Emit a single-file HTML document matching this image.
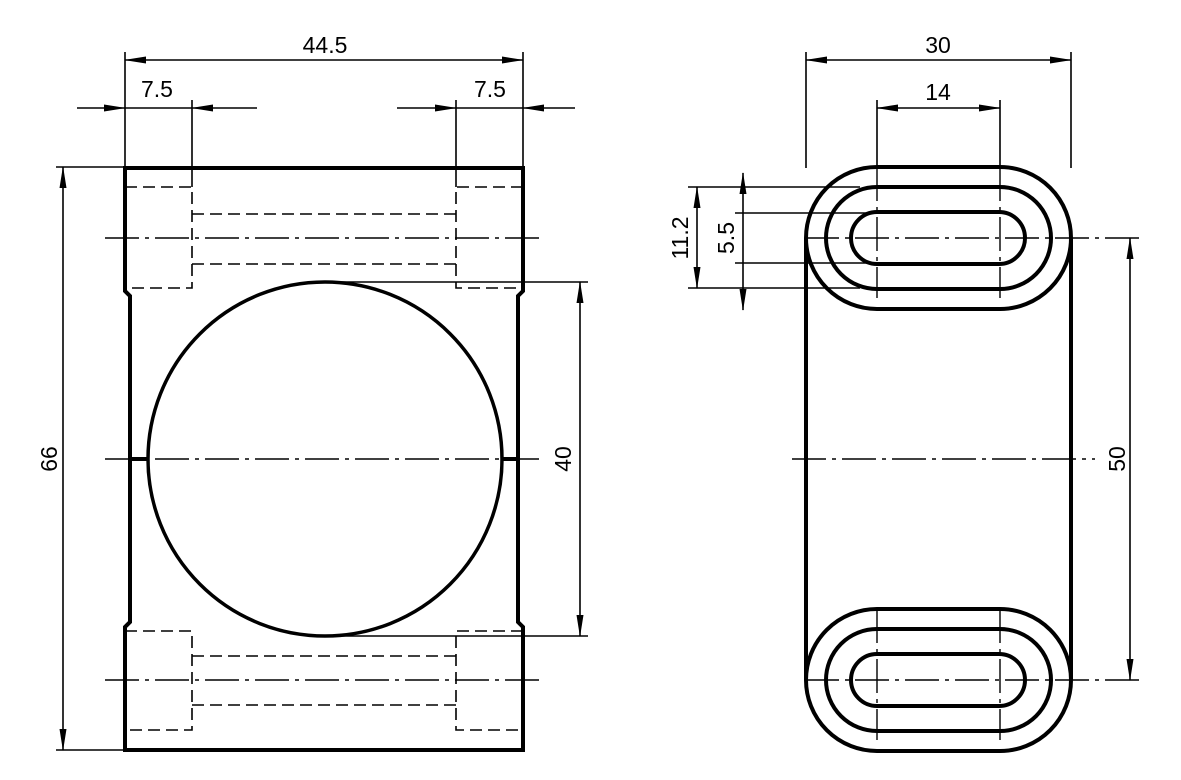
<!DOCTYPE html>
<html><head><style>body{margin:0;background:#fff}svg{display:block}text{font-family:"Liberation Sans",sans-serif;font-size:23px;fill:#000}</style></head><body>
<svg width="1181" height="780" viewBox="0 0 1181 780" xmlns="http://www.w3.org/2000/svg">
<defs>
<marker id="a" markerWidth="22" markerHeight="8" refX="21" refY="4" orient="auto-start-reverse" markerUnits="userSpaceOnUse"><path d="M0,0.5 L22,4 L0,7.5z" fill="#000"/></marker>
</defs>
<g fill="none" stroke="#000">
<path d="M125,750 L125,627 L130,622 L130,296 L125,291 L125,168 L523,168 L523,291 L518,296 L518,622 L523,627 L523,750 Z" stroke-width="4"/>
<circle cx="325" cy="459" r="177" stroke-width="3.5"/>
<path d="M130,459 H148 M502,459 H518" stroke-width="4"/>
<g stroke-width="1.6" stroke-dasharray="12,6">
<path d="M125,187 H192 V288 H125 M523,187 H456 V288 H523 M192,214 H456 M192,264 H456"/>
<path d="M125,631 H192 V730 H125 M523,631 H456 V730 H523 M192,656 H456 M192,705 H456"/>
</g>
<g stroke-width="1.4" stroke-dasharray="34,6,4,6">
<path d="M105,238 H540 M105,680 H540 M105,459 H545"/>
<path d="M805,238 H1140 M805,680 H1140 M792,459 H1095"/>
<path d="M877,167 V298 M1000,167 V298 M877,609 V740 M1000,609 V740"/>
</g>
<g stroke-width="1.6">
<path d="M125,52 V168 M523,52 V168 M192,100 V187 M456,100 V187"/>
<path d="M125,60 H523" marker-start="url(#a)" marker-end="url(#a)"/>
<path d="M77,108 H125" marker-end="url(#a)"/><path d="M257,108 H192" marker-end="url(#a)"/><path d="M125,108 H192"/>
<path d="M397,108 H456" marker-end="url(#a)"/><path d="M575,108 H523" marker-end="url(#a)"/><path d="M456,108 H523"/>
<path d="M56,167 H125 M56,750 H125"/>
<path d="M63,167 V750" marker-start="url(#a)" marker-end="url(#a)"/>
<path d="M330,282 H588 M330,636 H588"/>
<path d="M580,282 V636" marker-start="url(#a)" marker-end="url(#a)"/>
<path d="M806,52 V168 M1071,52 V168 M877,100 V167 M1000,100 V167"/>
<path d="M806,60 H1071" marker-start="url(#a)" marker-end="url(#a)"/>
<path d="M877,108 H1000" marker-start="url(#a)" marker-end="url(#a)"/>
<path d="M688,187 H860 M688,288 H860 M735,213 H877 M735,263 H877"/>
<path d="M697,187 V288" marker-start="url(#a)" marker-end="url(#a)"/>
<path d="M743,173 V213" marker-start="url(#a)"/><path d="M743,310 V263" marker-start="url(#a)"/><path d="M743,213 V263"/>
<path d="M1130,238 V680" marker-start="url(#a)" marker-end="url(#a)"/>
</g>
<g stroke-width="4">
<path d="M806,238 V680 M1071,238 V680"/>
<rect x="806" y="167" width="265" height="142" rx="71"/>
<rect x="826" y="187" width="225" height="102" rx="51"/>
<rect x="851" y="212" width="174" height="52" rx="26"/>
<rect x="806" y="609" width="265" height="142" rx="71"/>
<rect x="826" y="629" width="225" height="102" rx="51"/>
<rect x="851" y="654" width="174" height="52" rx="26"/>
</g>
</g>
<text x="325" y="53" text-anchor="middle">44.5</text>
<text x="157" y="97" text-anchor="middle">7.5</text>
<text x="490" y="97" text-anchor="middle">7.5</text>
<text x="938" y="53" text-anchor="middle">30</text>
<text x="938" y="100" text-anchor="middle">14</text>
<text transform="translate(57,459) rotate(-90)" text-anchor="middle">66</text>
<text transform="translate(571,459) rotate(-90)" text-anchor="middle">40</text>
<text transform="translate(688,238) rotate(-90)" text-anchor="middle">11.2</text>
<text transform="translate(734,238) rotate(-90)" text-anchor="middle">5.5</text>
<text transform="translate(1125,459) rotate(-90)" text-anchor="middle">50</text>
</svg>
</body></html>
